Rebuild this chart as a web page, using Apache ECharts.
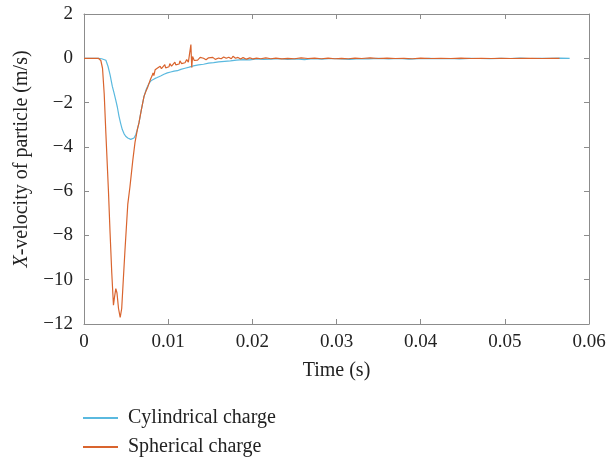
<!DOCTYPE html>
<html>
<head>
<meta charset="utf-8">
<script src="https://cdn.jsdelivr.net/npm/echarts@6/dist/echarts.min.js"></script>
<style>
  html, body { margin: 0; padding: 0; background: #fff; }
  #chart { width: 610px; height: 460px; }
</style>
</head>
<body>
<div id="chart"></div>
<script>
// [time (s), x-velocity (m/s)]
const cylindricalData = [
  [0, 0], [0.0010, 0], [0.0017, 0], [0.0021, -0.02], [0.0026, -0.09], [0.00285, -0.36],
  [0.0031, -0.75], [0.00336, -1.26], [0.00356, -1.55], [0.00376, -1.87], [0.00396, -2.2],
  [0.00416, -2.62], [0.00436, -2.95], [0.00455, -3.22], [0.00475, -3.4], [0.00495, -3.52],
  [0.0052, -3.6], [0.00555, -3.66], [0.00575, -3.68], [0.00594, -3.6], [0.00615, -3.45],
  [0.00633, -3.22], [0.00653, -2.92], [0.0068, -2.35], [0.00713, -1.72], [0.0074, -1.4],
  [0.0077, -1.15], [0.0080, -1.0], [0.0084, -0.92], [0.0087, -0.87], [0.0091, -0.8],
  [0.0095, -0.72], [0.0099, -0.66], [0.0103, -0.62], [0.0107, -0.58], [0.0111, -0.56],
  [0.0115, -0.5], [0.0120, -0.45], [0.0125, -0.4], [0.0130, -0.34], [0.0136, -0.3],
  [0.0142, -0.27], [0.0148, -0.22], [0.0154, -0.2], [0.0160, -0.16], [0.0167, -0.14],
  [0.0174, -0.12], [0.0181, -0.08], [0.0189, -0.06], [0.0197, -0.07], [0.0205, -0.03],
  [0.0213, -0.05], [0.0222, -0.04], [0.0232, -0.02], [0.0242, -0.05], [0.0252, -0.03],
  [0.0262, -0.06], [0.0272, -0.02], [0.0283, -0.04], [0.0294, -0.01], [0.0305, -0.03],
  [0.0316, -0.05], [0.0327, -0.02], [0.0338, -0.03], [0.0350, 0.0], [0.0362, -0.03],
  [0.0374, -0.01], [0.0386, -0.04], [0.0398, -0.02], [0.0410, 0.0], [0.0422, -0.02],
  [0.0434, -0.01], [0.0446, -0.03], [0.0458, 0.0], [0.0470, -0.01], [0.0482, -0.02],
  [0.0494, 0.0], [0.0506, -0.01], [0.0518, 0.01], [0.0530, -0.01], [0.0542, 0.0],
  [0.0554, 0.0], [0.0566, 0.01], [0.0577, 0.0]
];

const sphericalData = [
  [0, 0], [0.0010, 0], [0.0017, 0], [0.0020, -0.1], [0.0022, -0.45], [0.0024, -1.6],
  [0.0026, -3.4], [0.0029, -5.95], [0.0031, -7.9], [0.0033, -9.7], [0.0035, -11.15],
  [0.00362, -10.8], [0.00378, -10.4], [0.00392, -10.6], [0.0041, -11.3], [0.0043, -11.7],
  [0.00448, -11.3], [0.00467, -10.0], [0.00487, -8.66], [0.0052, -6.6], [0.00546, -5.8],
  [0.0058, -4.6], [0.00606, -3.8], [0.00635, -3.2], [0.00653, -2.92], [0.0068, -2.35],
  [0.00713, -1.72], [0.0074, -1.45], [0.0076, -1.27], [0.0079, -0.95], [0.0081, -0.78],
  [0.0082, -0.66], [0.0083, -0.78], [0.00845, -0.52], [0.0086, -0.6], [0.0087, -0.45],
  [0.0089, -0.5], [0.00905, -0.36], [0.0092, -0.47], [0.0094, -0.4], [0.0096, -0.29],
  [0.0097, -0.43], [0.0099, -0.34], [0.0101, -0.38], [0.0102, -0.24], [0.0104, -0.35],
  [0.0106, -0.3], [0.0108, -0.17], [0.0109, -0.3], [0.0111, -0.22], [0.0113, -0.26],
  [0.0114, -0.12], [0.0116, -0.24], [0.0118, -0.15], [0.0120, -0.2], [0.0122, -0.06],
  [0.0124, -0.17], [0.0126, -0.1], [0.0127, 0.62], [0.0128, -0.42], [0.0129, 0.08],
  [0.0131, -0.1], [0.0133, -0.02], [0.0135, -0.08], [0.0138, 0.04], [0.0140, -0.05],
  [0.0142, 0.0], [0.0145, -0.07], [0.0148, 0.02], [0.0150, -0.03], [0.0153, 0.04],
  [0.0156, -0.05], [0.0160, 0.01], [0.0163, -0.02], [0.0166, 0.06], [0.0169, 0.0],
  [0.0172, 0.05], [0.0175, -0.02], [0.0177, 0.09], [0.0180, 0.0], [0.0183, 0.04],
  [0.0186, -0.03], [0.0189, 0.03], [0.0193, -0.04], [0.0197, 0.02], [0.0201, -0.03],
  [0.0205, 0.01], [0.0210, -0.02], [0.0216, 0.02], [0.0222, -0.02], [0.0228, 0.01],
  [0.0235, -0.03], [0.0242, 0.0], [0.0250, -0.02], [0.0258, 0.02], [0.0266, -0.01],
  [0.0274, 0.01], [0.0282, -0.02], [0.0290, 0.01], [0.0298, -0.02], [0.0306, 0.0],
  [0.0314, -0.02], [0.0322, 0.01], [0.0330, -0.01], [0.0340, 0.02], [0.0350, -0.01],
  [0.0360, 0.01], [0.0370, -0.01], [0.0380, 0.0], [0.0390, -0.02], [0.0400, 0.01],
  [0.0412, -0.01], [0.0424, 0.0], [0.0436, -0.01], [0.0448, 0.01], [0.0460, -0.01],
  [0.0472, 0.0], [0.0484, -0.01], [0.0496, 0.0], [0.0508, -0.01], [0.0520, 0.0],
  [0.0532, 0.0], [0.0544, -0.01], [0.0556, 0.0], [0.0565, 0.0]
];

const seriesNames = ['Cylindrical charge', 'Spherical charge'];
const seriesColors = ['#5ab9df', '#d9642e'];

const font = 'Liberation Serif';
const axisGrey = '#8c8c8c';

const chart = echarts.init(document.getElementById('chart'));

function boxAxis(pos, extra) {
  return Object.assign({
    position: pos,
    axisLine: { show: true, onZero: false, lineStyle: { color: axisGrey, width: 1 } },
    axisTick: { show: true, inside: true, length: 5, lineStyle: { color: axisGrey } },
    axisLabel: { show: false },
    splitLine: { show: false }
  }, extra);
}

chart.setOption({
  animation: false,
  textStyle: { fontFamily: font },
  grid: { left: 84, right: 21, top: 14, bottom: 136 },
  legend: {
    orient: 'vertical',
    left: 83,
    top: 407,
    height: 53,
    padding: 0,
    itemWidth: 35,
    itemHeight: 2,
    itemGap: 7,
    icon: 'rect',
    textStyle: {
      fontFamily: font, fontSize: 20, lineHeight: 22, color: '#222', padding: [0, 0, 0, 5]
    },
    data: seriesNames
  },
  xAxis: [
    boxAxis('bottom', {
      type: 'value', min: 0, max: 0.06, interval: 0.01,
      name: 'Time (s)', nameLocation: 'middle', nameGap: 37,
      nameTextStyle: { fontFamily: font, fontSize: 20, color: '#222' },
      axisLabel: {
        show: true, margin: 9, fontFamily: font, fontSize: 19, color: '#222',
        formatter: v => (v === 0 ? '0' : v.toFixed(2))
      }
    }),
    boxAxis('top', { type: 'value', min: 0, max: 0.06, interval: 0.01 })
  ],
  yAxis: [
    boxAxis('left', {
      type: 'value', min: -12, max: 2, interval: 2,
      name: '{i|X}-velocity of particle (m/s)', nameLocation: 'middle', nameGap: 52,
      nameTextStyle: {
        fontFamily: font, fontSize: 20, color: '#222', padding: [0, 0, 0, 20],
        rich: { i: { fontFamily: font, fontSize: 20, fontStyle: 'italic', color: '#222' } }
      },
      axisLabel: {
        show: true, margin: 11, fontFamily: font, fontSize: 19, color: '#222',
        formatter: v => String(v).replace('-', '\u2212')
      }
    }),
    boxAxis('right', { type: 'value', min: -12, max: 2, interval: 2 })
  ],
  series: [
    {
      name: seriesNames[0], type: 'line', data: cylindricalData,
      showSymbol: false, color: seriesColors[0],
      lineStyle: { width: 1.2, color: seriesColors[0] }
    },
    {
      name: seriesNames[1], type: 'line', data: sphericalData,
      showSymbol: false, color: seriesColors[1],
      lineStyle: { width: 1.2, color: seriesColors[1] }
    }
  ]
});
</script>
</body>
</html>
